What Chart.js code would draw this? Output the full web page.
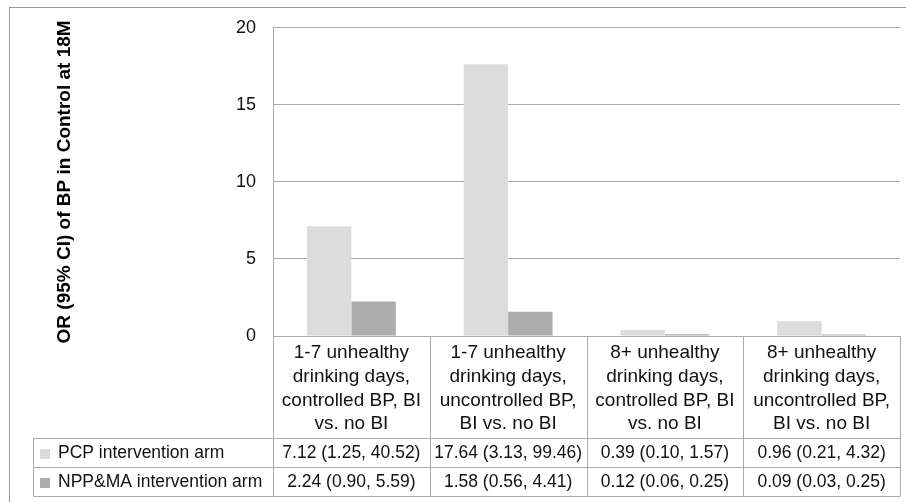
<!DOCTYPE html>
<html>
<head>
<meta charset="utf-8">
<script src="https://cdn.jsdelivr.net/npm/chart.js@4.4.1/dist/chart.umd.min.js"></script>
<style>
  html, body { margin: 0; padding: 0; background: #ffffff; }
  #wrap { position: relative; width: 906px; height: 502px; }
</style>
</head>
<body>
<div id="wrap"><canvas id="c" width="906" height="502"></canvas></div>
<script>
// ---- data ----
const categories = [
  ["1-7 unhealthy", "drinking days,", "controlled BP, BI", "vs. no BI"],
  ["1-7 unhealthy", "drinking days,", "uncontrolled BP,", "BI vs. no BI"],
  ["8+ unhealthy", "drinking days,", "controlled BP, BI", "vs. no BI"],
  ["8+ unhealthy", "drinking days,", "uncontrolled BP,", "BI vs. no BI"]
];
const seriesNames = ["PCP intervention arm", "NPP&MA intervention arm"];
const pcpOR   = [7.12, 17.64, 0.39, 0.96];
const pcpLow  = [1.25, 3.13, 0.10, 0.21];
const pcpHigh = [40.52, 99.46, 1.57, 4.32];
const nppOR   = [2.24, 1.58, 0.12, 0.09];
const nppLow  = [0.90, 0.56, 0.06, 0.03];
const nppHigh = [5.59, 4.41, 0.25, 0.25];
const yTicks = [0, 5, 10, 15, 20];
const yTitle = "OR (95% CI) of BP in Control at 18M";

// ---- styling ----
const FONT = "'Liberation Sans', Arial, Helvetica, sans-serif";
const LINE = '#a9a9a9';
const colors = ['#dcdcdc', '#adadad'];
Chart.defaults.font.family = FONT;
Chart.defaults.color = '#111111';

const fmt = (v, lo, hi) => `${v.toFixed(2)} (${lo.toFixed(2)}, ${hi.toFixed(2)})`;
const rowSeries = [
  { name: seriesNames[0], v: pcpOR, lo: pcpLow, hi: pcpHigh, color: colors[0] },
  { name: seriesNames[1], v: nppOR, lo: nppLow, hi: nppHigh, color: colors[1] }
];

const tablePlugin = {
  id: 'dataTable',
  afterDraw(chart) {
    const ctx = chart.ctx;
    const ca = chart.chartArea;
    const xs = chart.scales.x;
    const n = categories.length;
    const colW = (ca.right - ca.left) / n;
    const tableLeft = 33;
    const headerBottom = 438;
    const rowH = 29;
    const tableBottom = headerBottom + rowH * rowSeries.length;
    ctx.save();
    // outer frame
    ctx.strokeStyle = '#9a9a9a';
    ctx.lineWidth = 1;
    ctx.strokeRect(9.5, 7.5, 1000, 1000);
    // table lines
    ctx.strokeStyle = LINE;
    ctx.beginPath();
    for (let i = 0; i <= n; i++) {
      const x = Math.round(ca.left + i * colW) + 0.5;
      ctx.moveTo(x, ca.bottom);
      ctx.lineTo(x, tableBottom);
    }
    for (let r = 0; r <= rowSeries.length; r++) {
      const y = headerBottom + r * rowH + 0.5;
      ctx.moveTo(tableLeft + 0.5, y);
      ctx.lineTo(Math.round(ca.right) + 0.5, y);
    }
    ctx.moveTo(tableLeft + 0.5, headerBottom);
    ctx.lineTo(tableLeft + 0.5, tableBottom);
    ctx.stroke();
    // rows
    ctx.font = '17.5px ' + FONT;
    ctx.textBaseline = 'middle';
    rowSeries.forEach((s, r) => {
      const yc = headerBottom + r * rowH + rowH / 2 + 1;
      ctx.fillStyle = s.color;
      ctx.fillRect(40, Math.round(yc - 5), 10, 10);
      ctx.fillStyle = '#111';
      ctx.textAlign = 'left';
      ctx.fillText(s.name, 58, yc);
      ctx.textAlign = 'center';
      for (let i = 0; i < n; i++) {
        const cx = xs.getPixelForValue(i);
        ctx.fillText(fmt(s.v[i], s.lo[i], s.hi[i]), cx, yc);
      }
    });
    ctx.restore();
  }
};

new Chart(document.getElementById('c'), {
  type: 'bar',
  data: {
    labels: categories,
    datasets: [
      { label: seriesNames[0], data: pcpOR, backgroundColor: colors[0], borderWidth: 0 },
      { label: seriesNames[1], data: nppOR, backgroundColor: colors[1], borderWidth: 0 }
    ]
  },
  options: {
    responsive: false,
    animation: false,
    events: [],
    layout: { padding: { left: 0, top: 25, right: 6, bottom: 0 } },
    datasets: { bar: { categoryPercentage: 0.567, barPercentage: 1.0 } },
    plugins: { legend: { display: false }, tooltip: { enabled: false } },
    scales: {
      x: {
        grid: { display: false, drawTicks: false },
        border: { display: true, color: LINE, width: 1 },
        ticks: {
          autoSkip: false, maxRotation: 0, minRotation: 0, padding: 5,
          font: { size: 19, lineHeight: 1.25 }, color: '#111'
        },
        afterFit(scale) { scale.height = 166; }
      },
      y: {
        min: 0, max: 20,
        grid: { color: LINE, drawTicks: false, lineWidth: 1 },
        border: { display: true, color: LINE, width: 1 },
        afterBuildTicks(scale) { scale.ticks = yTicks.map(v => ({ value: v })); },
        ticks: { padding: 17, font: { size: 18 }, color: '#111' },
        title: {
          display: true, text: yTitle, color: '#000',
          font: { size: 19, weight: 'bold', lineHeight: 1.2 },
          padding: { top: 53, bottom: 0 }
        },
        afterFit(scale) { scale.width = 273; }
      }
    }
  },
  plugins: [tablePlugin]
});
</script>
</body>
</html>
